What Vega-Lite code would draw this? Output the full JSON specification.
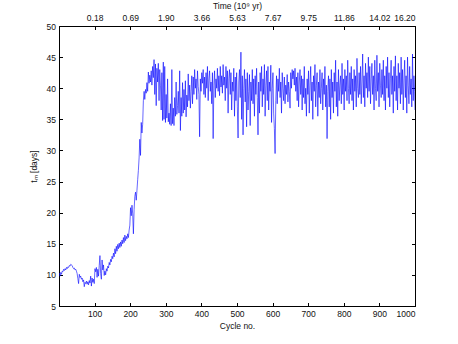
{
"$schema": "https://vega.github.io/schema/vega-lite/v6.json",
"width": 356, "height": 280,
"autosize": {"type": "none"},
"padding": {"left": 59, "top": 26, "right": 43, "bottom": 38},
"background": "white",
"config": {
  "view": {"stroke": "#000", "strokeWidth": 1},
  "axis": {"labelFont": "Liberation Sans", "titleFont": "Liberation Sans", "labelFontSize": 8.5, "titleFontSize": 8.5, "titleFontWeight": "normal", "labelColor": "#111", "titleColor": "#111", "domainColor": "#000", "tickColor": "#000", "tickSize": -3.5, "grid": false}
},
"data": {"values": [
{"c":1,"t":10.3},{"c":3,"t":9.8},{"c":5,"t":10.4},{"c":7,"t":10.1},{"c":9,"t":10.6},{"c":11,"t":10.5},{"c":13,"t":10.9},{"c":15,"t":10.7},{"c":17,"t":11.0},{"c":19,"t":10.8},
{"c":21,"t":11.2},{"c":23,"t":11.0},{"c":25,"t":11.3},{"c":27,"t":11.2},{"c":29,"t":11.5},{"c":31,"t":11.4},{"c":33,"t":11.7},{"c":35,"t":11.6},{"c":37,"t":11.5},{"c":39,"t":11.2},
{"c":41,"t":11.0},{"c":43,"t":11.1},{"c":45,"t":10.8},{"c":47,"t":10.9},{"c":49,"t":10.6},{"c":51,"t":10.2},{"c":53,"t":9.4},{"c":55,"t":8.6},{"c":57,"t":10.1},{"c":59,"t":9.6},
{"c":61,"t":9.8},{"c":63,"t":9.3},{"c":65,"t":9.5},{"c":67,"t":8.9},{"c":69,"t":9.2},{"c":71,"t":8.1},{"c":73,"t":8.8},{"c":75,"t":8.6},{"c":77,"t":9.0},{"c":79,"t":8.5},
{"c":81,"t":8.9},{"c":83,"t":8.4},{"c":85,"t":9.1},{"c":87,"t":8.7},{"c":89,"t":9.8},{"c":91,"t":8.2},{"c":93,"t":9.5},{"c":95,"t":8.8},{"c":97,"t":9.3},{"c":99,"t":8.6},
{"c":101,"t":11.0},{"c":103,"t":10.5},{"c":105,"t":11.2},{"c":107,"t":9.6},{"c":109,"t":10.9},{"c":111,"t":9.8},{"c":113,"t":11.5},{"c":115,"t":13.1},{"c":117,"t":10.2},{"c":119,"t":9.3},
{"c":121,"t":12.4},{"c":123,"t":10.8},{"c":125,"t":11.6},{"c":127,"t":9.9},{"c":129,"t":10.6},{"c":131,"t":10.0},{"c":133,"t":11.0},{"c":135,"t":10.6},{"c":137,"t":11.4},{"c":139,"t":11.1},
{"c":141,"t":12.0},{"c":143,"t":11.6},{"c":145,"t":12.5},{"c":147,"t":12.1},{"c":149,"t":13.0},{"c":151,"t":12.6},{"c":153,"t":13.5},{"c":155,"t":12.9},{"c":157,"t":14.2},{"c":159,"t":13.4},
{"c":161,"t":14.6},{"c":163,"t":13.8},{"c":165,"t":14.9},{"c":167,"t":14.2},{"c":169,"t":15.1},{"c":171,"t":14.4},{"c":173,"t":15.3},{"c":175,"t":14.6},{"c":177,"t":15.6},{"c":179,"t":15.0},
{"c":181,"t":16.0},{"c":183,"t":15.2},{"c":185,"t":16.4},{"c":187,"t":15.5},{"c":189,"t":16.2},{"c":191,"t":15.8},{"c":193,"t":16.6},{"c":195,"t":16.0},{"c":197,"t":17.2},{"c":199,"t":18.0},
{"c":201,"t":20.8},{"c":203,"t":19.5},{"c":205,"t":21.2},{"c":207,"t":19.8},{"c":209,"t":16.6},{"c":211,"t":20.5},{"c":213,"t":22.6},{"c":215,"t":23.3},{"c":217,"t":22.0},{"c":219,"t":23.6},
{"c":221,"t":25.3},{"c":223,"t":26.8},{"c":225,"t":28.8},{"c":227,"t":31.8},{"c":229,"t":29.2},{"c":231,"t":34.5},{"c":233,"t":32.8},{"c":235,"t":34.2},{"c":237,"t":38.0},{"c":239,"t":39.5},
{"c":241,"t":38.2},{"c":243,"t":39.8},{"c":245,"t":39.2},{"c":247,"t":40.9},{"c":249,"t":39.5},
{"c":251,"t":42.6},{"c":253,"t":40.8},{"c":255,"t":42.1},{"c":257,"t":41.0},{"c":259,"t":42.8},{"c":261,"t":40.5},{"c":263,"t":43.5},{"c":265,"t":41.7},{"c":267,"t":44.6},{"c":269,"t":39.0},
{"c":271,"t":43.9},{"c":273,"t":37.2},{"c":275,"t":43.2},{"c":277,"t":41.0},{"c":279,"t":44.0},{"c":281,"t":38.0},{"c":283,"t":43.0},{"c":285,"t":40.5},{"c":287,"t":36.5},{"c":289,"t":42.5},
{"c":291,"t":34.8},{"c":293,"t":44.2},{"c":295,"t":35.0},{"c":297,"t":43.5},{"c":299,"t":34.5},{"c":301,"t":39.0},{"c":303,"t":35.2},{"c":305,"t":41.5},{"c":307,"t":34.6},{"c":309,"t":36.0},
{"c":311,"t":34.2},{"c":313,"t":37.5},{"c":315,"t":34.0},{"c":317,"t":43.0},{"c":319,"t":34.3},{"c":321,"t":36.8},{"c":323,"t":34.0},{"c":325,"t":38.5},{"c":327,"t":35.5},{"c":329,"t":41.0},
{"c":331,"t":35.8},{"c":333,"t":37.2},{"c":335,"t":39.5},{"c":337,"t":36.0},{"c":339,"t":42.8},{"c":341,"t":33.2},{"c":343,"t":38.5},{"c":345,"t":35.5},{"c":347,"t":40.9},{"c":349,"t":36.0},
{"c":351,"t":39.8},{"c":353,"t":36.5},{"c":355,"t":41.2},{"c":357,"t":35.4},{"c":359,"t":38.9},{"c":361,"t":37.0},{"c":363,"t":42.3},{"c":365,"t":38.0},{"c":367,"t":40.5},{"c":369,"t":36.8},
{"c":371,"t":39.5},{"c":373,"t":42.0},{"c":375,"t":37.5},{"c":377,"t":41.8},{"c":379,"t":39.0},{"c":381,"t":43.0},{"c":383,"t":40.0},{"c":385,"t":41.5},{"c":387,"t":38.2},{"c":389,"t":42.8},
{"c":391,"t":40.3},{"c":393,"t":39.0},{"c":395,"t":32.2},{"c":397,"t":41.5},{"c":399,"t":39.5},{"c":401,"t":42.5},{"c":403,"t":40.8},{"c":405,"t":43.0},{"c":407,"t":39.0},{"c":409,"t":41.8},
{"c":411,"t":38.5},{"c":413,"t":42.5},{"c":415,"t":40.0},{"c":417,"t":43.5},{"c":419,"t":38.0},{"c":421,"t":41.5},{"c":423,"t":42.8},{"c":425,"t":39.5},{"c":427,"t":41.0},{"c":429,"t":37.5},
{"c":431,"t":42.5},{"c":433,"t":31.9},{"c":435,"t":40.5},{"c":437,"t":42.8},{"c":439,"t":38.5},{"c":441,"t":41.5},{"c":443,"t":40.0},{"c":445,"t":43.2},{"c":447,"t":39.5},{"c":449,"t":42.0},
{"c":451,"t":38.8},{"c":453,"t":43.5},{"c":455,"t":40.2},{"c":457,"t":42.0},{"c":459,"t":39.2},{"c":461,"t":43.8},{"c":463,"t":40.5},{"c":465,"t":41.8},{"c":467,"t":38.0},{"c":469,"t":43.5},
{"c":471,"t":40.0},{"c":473,"t":42.8},{"c":475,"t":36.0},{"c":477,"t":41.5},{"c":479,"t":43.0},{"c":481,"t":39.0},{"c":483,"t":42.5},{"c":485,"t":36.5},{"c":487,"t":41.0},{"c":489,"t":39.5},
{"c":491,"t":43.2},{"c":493,"t":35.5},{"c":495,"t":41.8},{"c":497,"t":38.0},{"c":499,"t":42.5},{"c":501,"t":37.0},{"c":503,"t":32.0},{"c":505,"t":41.0},{"c":507,"t":43.0},{"c":509,"t":38.5},
{"c":511,"t":45.8},{"c":513,"t":35.0},{"c":515,"t":42.0},{"c":517,"t":32.5},{"c":519,"t":40.0},{"c":521,"t":43.0},{"c":523,"t":37.8},{"c":525,"t":41.5},{"c":527,"t":33.8},{"c":529,"t":42.5},
{"c":531,"t":36.5},{"c":533,"t":39.5},{"c":535,"t":42.2},{"c":537,"t":34.0},{"c":539,"t":41.0},{"c":541,"t":38.0},{"c":543,"t":43.0},{"c":545,"t":37.5},{"c":547,"t":41.5},{"c":549,"t":35.5},
{"c":551,"t":42.0},{"c":553,"t":39.0},{"c":555,"t":43.2},{"c":557,"t":38.5},{"c":559,"t":32.5},{"c":561,"t":41.0},{"c":563,"t":36.0},{"c":565,"t":42.5},{"c":567,"t":39.5},{"c":569,"t":43.5},
{"c":571,"t":37.0},{"c":573,"t":41.5},{"c":575,"t":39.0},{"c":577,"t":43.8},{"c":579,"t":35.5},{"c":581,"t":40.5},{"c":583,"t":42.8},{"c":585,"t":38.0},{"c":587,"t":43.5},{"c":589,"t":36.5},
{"c":591,"t":41.0},{"c":593,"t":39.5},{"c":595,"t":43.7},{"c":597,"t":34.5},{"c":599,"t":40.0},{"c":601,"t":42.5},{"c":603,"t":36.0},{"c":605,"t":33.5},{"c":607,"t":29.5},{"c":609,"t":38.0},
{"c":611,"t":42.0},{"c":613,"t":37.5},{"c":615,"t":41.5},{"c":617,"t":39.5},{"c":619,"t":43.2},{"c":621,"t":38.5},{"c":623,"t":41.0},{"c":625,"t":36.0},{"c":627,"t":42.5},{"c":629,"t":40.0},
{"c":631,"t":38.0},{"c":633,"t":41.8},{"c":635,"t":37.5},{"c":637,"t":40.5},{"c":639,"t":39.0},{"c":641,"t":42.2},{"c":643,"t":37.8},{"c":645,"t":41.0},{"c":647,"t":39.5},{"c":649,"t":36.8},
{"c":651,"t":42.5},{"c":653,"t":40.0},{"c":655,"t":43.0},{"c":657,"t":41.5},{"c":659,"t":42.8},{"c":661,"t":40.5},{"c":663,"t":43.2},{"c":665,"t":39.5},{"c":667,"t":41.8},{"c":669,"t":38.0},
{"c":671,"t":42.5},{"c":673,"t":37.0},{"c":675,"t":41.0},{"c":677,"t":43.0},{"c":679,"t":39.0},{"c":681,"t":42.0},{"c":683,"t":36.5},{"c":685,"t":41.5},{"c":687,"t":38.5},{"c":689,"t":43.5},
{"c":691,"t":37.5},{"c":693,"t":40.0},{"c":695,"t":35.5},{"c":697,"t":41.5},{"c":699,"t":39.0},{"c":701,"t":42.8},{"c":703,"t":36.0},{"c":705,"t":40.5},{"c":707,"t":43.5},{"c":709,"t":38.0},
{"c":711,"t":41.0},{"c":713,"t":35.0},{"c":715,"t":42.0},{"c":717,"t":39.5},{"c":719,"t":43.8},{"c":721,"t":37.0},{"c":723,"t":40.5},{"c":725,"t":42.5},{"c":727,"t":35.5},{"c":729,"t":41.0},
{"c":731,"t":38.5},{"c":733,"t":43.0},{"c":735,"t":37.5},{"c":737,"t":40.0},{"c":739,"t":42.5},{"c":741,"t":36.5},{"c":743,"t":41.5},{"c":745,"t":39.0},{"c":747,"t":43.5},{"c":749,"t":37.0},
{"c":751,"t":40.5},{"c":753,"t":31.9},{"c":755,"t":39.5},{"c":757,"t":42.0},{"c":759,"t":37.0},{"c":761,"t":41.5},{"c":763,"t":35.0},{"c":765,"t":43.0},{"c":767,"t":38.5},{"c":769,"t":41.0},
{"c":771,"t":36.0},{"c":773,"t":42.5},{"c":775,"t":39.5},{"c":777,"t":44.5},{"c":779,"t":37.0},{"c":781,"t":41.0},{"c":783,"t":35.5},{"c":785,"t":43.0},{"c":787,"t":38.0},{"c":789,"t":40.5},
{"c":791,"t":42.0},{"c":793,"t":37.5},{"c":795,"t":44.0},{"c":797,"t":39.0},{"c":799,"t":41.5},{"c":801,"t":36.5},{"c":803,"t":43.0},{"c":805,"t":39.5},{"c":807,"t":42.0},{"c":809,"t":38.0},
{"c":811,"t":44.5},{"c":813,"t":40.0},{"c":815,"t":37.5},{"c":817,"t":42.5},{"c":819,"t":39.0},{"c":821,"t":43.5},{"c":823,"t":38.0},{"c":825,"t":41.5},{"c":827,"t":36.5},{"c":829,"t":43.0},
{"c":831,"t":39.5},{"c":833,"t":42.0},{"c":835,"t":37.0},{"c":837,"t":44.8},{"c":839,"t":40.0},{"c":841,"t":38.5},{"c":843,"t":42.5},{"c":845,"t":39.0},{"c":847,"t":43.5},{"c":849,"t":37.5},
{"c":851,"t":41.0},{"c":853,"t":45.5},{"c":855,"t":38.5},{"c":857,"t":42.0},{"c":859,"t":37.0},{"c":861,"t":44.0},{"c":863,"t":40.0},{"c":865,"t":42.5},{"c":867,"t":38.5},{"c":869,"t":45.0},
{"c":871,"t":39.5},{"c":873,"t":43.5},{"c":875,"t":37.5},{"c":877,"t":41.5},{"c":879,"t":44.0},{"c":881,"t":39.0},{"c":883,"t":42.0},{"c":885,"t":36.5},{"c":887,"t":44.5},{"c":889,"t":40.0},
{"c":891,"t":38.0},{"c":893,"t":45.3},{"c":895,"t":39.5},{"c":897,"t":42.5},{"c":899,"t":37.0},{"c":901,"t":44.0},{"c":903,"t":40.5},{"c":905,"t":38.5},{"c":907,"t":43.0},{"c":909,"t":39.0},
{"c":911,"t":44.5},{"c":913,"t":38.0},{"c":915,"t":42.0},{"c":917,"t":36.5},{"c":919,"t":43.5},{"c":921,"t":40.0},{"c":923,"t":45.0},{"c":925,"t":38.5},{"c":927,"t":42.5},{"c":929,"t":37.0},
{"c":931,"t":41.5},{"c":933,"t":44.5},{"c":935,"t":39.0},{"c":937,"t":42.0},{"c":939,"t":36.0},{"c":941,"t":43.5},{"c":943,"t":39.5},{"c":945,"t":45.2},{"c":947,"t":38.0},{"c":949,"t":42.0},
{"c":951,"t":36.5},{"c":953,"t":44.0},{"c":955,"t":40.0},{"c":957,"t":42.5},{"c":959,"t":37.5},{"c":961,"t":45.0},{"c":963,"t":39.0},{"c":965,"t":43.0},{"c":967,"t":36.5},{"c":969,"t":41.5},
{"c":971,"t":44.5},{"c":973,"t":38.5},{"c":975,"t":42.0},{"c":977,"t":36.0},{"c":979,"t":45.0},{"c":981,"t":40.5},{"c":983,"t":37.5},{"c":985,"t":43.5},{"c":987,"t":39.0},{"c":989,"t":41.5},
{"c":991,"t":37.0},{"c":993,"t":45.5},{"c":995,"t":38.0},{"c":997,"t":42.0},{"c":999,"t":39.5},{"c":1000,"t":36.5}
]},
"layer": [
  {
    "mark": {"type": "line", "color": "#0000ff", "strokeWidth": 0.6, "clip": true},
    "encoding": {
      "x": {"field": "c", "type": "quantitative", "scale": {"domain": [0, 1000], "nice": false},
            "axis": {"orient": "bottom", "values": [100,200,300,400,500,600,700,800,900,1000], "format": "d", "title": "Cycle no.", "labelPadding": 7, "titlePadding": 3}},
      "y": {"field": "t", "type": "quantitative", "scale": {"domain": [5, 50], "nice": false, "zero": false},
            "axis": {"orient": "left", "values": [5,10,15,20,25,30,35,40,45,50], "format": "d", "title": "tₘ [days]", "labelPadding": 7, "titlePadding": 8}}
    }
  },
  {
    "mark": {"type": "point", "opacity": 0},
    "encoding": {
      "x": {"field": "c", "type": "quantitative", "scale": {"domain": [0, 1000], "nice": false},
            "axis": {"orient": "top", "values": [100,200,300,400,500,600,700,800,900,1000], "labelExpr": "['0.18','0.69','1.90','3.66','5.63','7.67','9.75','11.86','14.02','16.20'][round(datum.value/100)-1]", "title": "Time (10⁹ yr)", "labelPadding": 7, "titlePadding": 3}},
      "y": {"field": "t", "type": "quantitative", "scale": {"domain": [5, 50], "nice": false, "zero": false},
            "axis": {"orient": "right", "values": [5,10,15,20,25,30,35,40,45,50], "labels": false, "title": null}}
    }
  }
],
"resolve": {"scale": {"x": "independent", "y": "independent"}}
}
